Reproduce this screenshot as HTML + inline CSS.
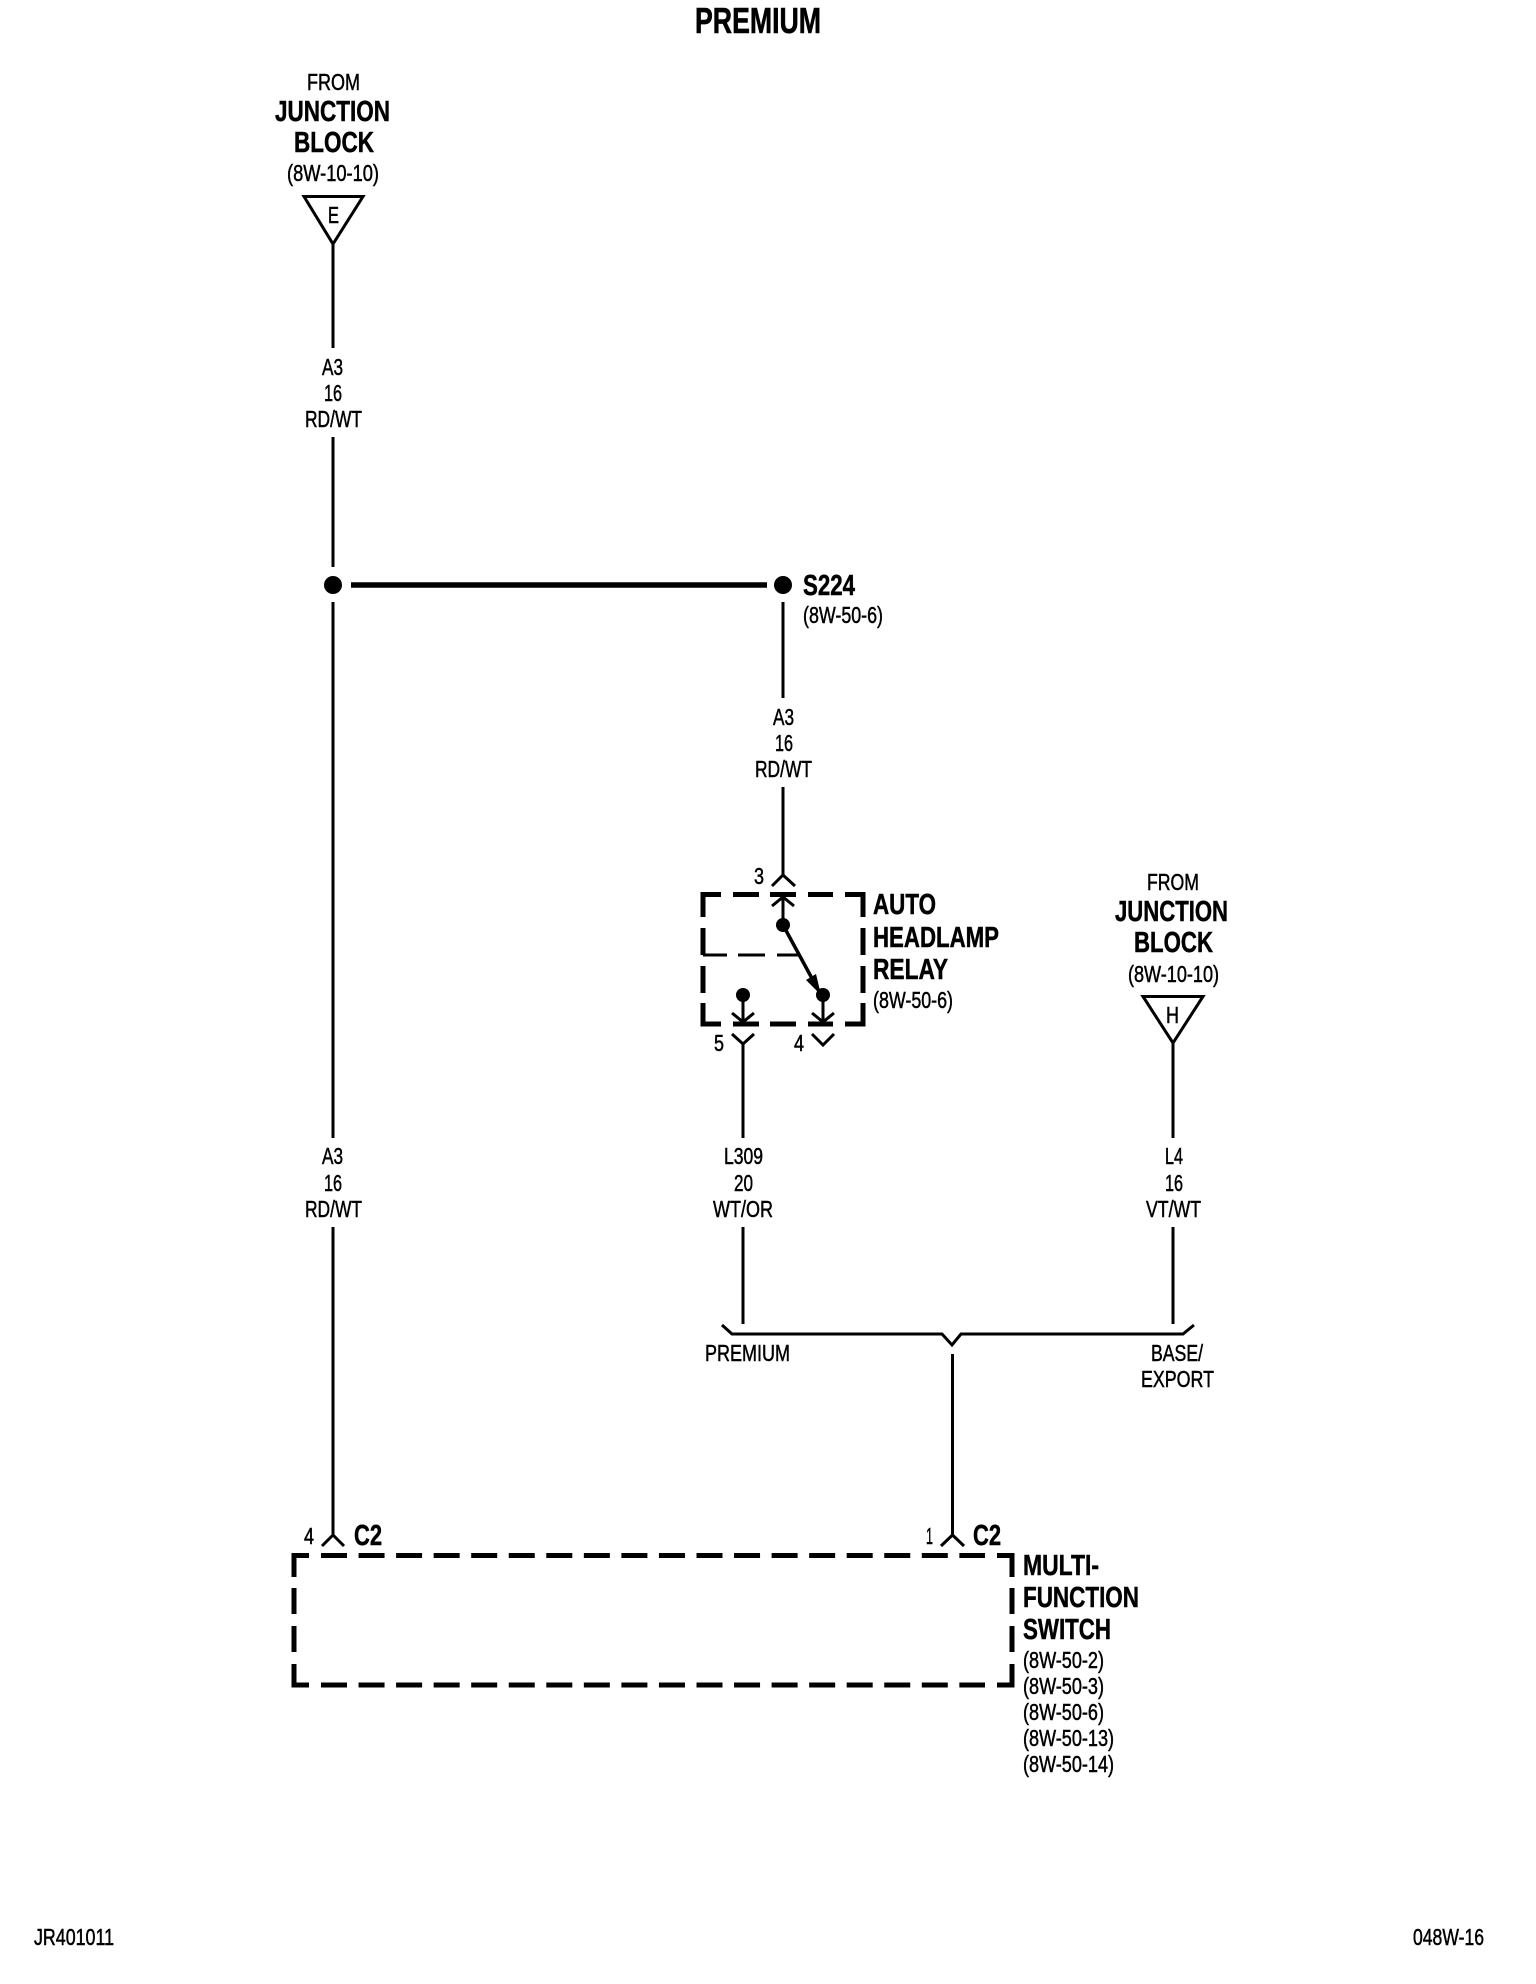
<!DOCTYPE html>
<html><head><meta charset="utf-8"><style>
html,body{margin:0;padding:0;background:#fff}
svg{display:block}
text{font-family:"Liberation Sans",sans-serif;fill:#000}
.r{font-size:23px;stroke:#000;stroke-width:.5px}
.b{font-size:29px;font-weight:bold;stroke:#000;stroke-width:.5px}
.t{font-size:36px;font-weight:bold;stroke:#000;stroke-width:.6px}
.w{stroke:#000;stroke-width:3;fill:none}
.d{stroke:#000;stroke-width:5;fill:none}
.m{stroke:#000;stroke-width:3;fill:none}
</style></head><body>
<svg xmlns="http://www.w3.org/2000/svg" width="1536" height="1984" viewBox="0 0 1536 1984">
<rect width="1536" height="1984" fill="#fff"/>

<text class="t" x="695" y="33" textLength="126" lengthAdjust="spacingAndGlyphs">PREMIUM</text>

<!-- left source -->
<text class="r" x="307" y="90" textLength="53" lengthAdjust="spacingAndGlyphs">FROM</text>
<text class="b" x="275" y="121" textLength="115" lengthAdjust="spacingAndGlyphs">JUNCTION</text>
<text class="b" x="294" y="152" textLength="80" lengthAdjust="spacingAndGlyphs">BLOCK</text>
<text class="r" x="287" y="181" textLength="92" lengthAdjust="spacingAndGlyphs">(8W-10-10)</text>
<path class="w" d="M304 196.500H363L333 244Z"/>
<text class="r" x="328" y="223" textLength="11" lengthAdjust="spacingAndGlyphs">E</text>
<path class="w" d="M333 244V348M333 437V567M333 602V1138M333 1227V1534"/>
<text class="r" x="322" y="375" textLength="21" lengthAdjust="spacingAndGlyphs">A3</text>
<text class="r" x="324" y="401" textLength="18" lengthAdjust="spacingAndGlyphs">16</text>
<text class="r" x="305" y="427" textLength="57" lengthAdjust="spacingAndGlyphs">RD/WT</text>
<circle cx="333" cy="585" r="9"/>
<path d="M351 585H767" stroke="#000" stroke-width="5.500" fill="none"/>
<circle cx="783" cy="585" r="9"/>
<text class="b" x="803" y="595" textLength="52" lengthAdjust="spacingAndGlyphs">S224</text>
<text class="r" x="803" y="623" textLength="80" lengthAdjust="spacingAndGlyphs">(8W-50-6)</text>
<path class="w" d="M783 602V698M783 787V874"/>
<text class="r" x="773" y="725" textLength="21" lengthAdjust="spacingAndGlyphs">A3</text>
<text class="r" x="775" y="751" textLength="18" lengthAdjust="spacingAndGlyphs">16</text>
<text class="r" x="755" y="777" textLength="57" lengthAdjust="spacingAndGlyphs">RD/WT</text>
<text class="r" x="322" y="1164" textLength="21" lengthAdjust="spacingAndGlyphs">A3</text>
<text class="r" x="324" y="1191" textLength="18" lengthAdjust="spacingAndGlyphs">16</text>
<text class="r" x="305" y="1217" textLength="57" lengthAdjust="spacingAndGlyphs">RD/WT</text>

<!-- relay -->
<path class="w" d="M772 886L783 875L795 886"/>
<text class="r" x="754" y="884" textLength="10" lengthAdjust="spacingAndGlyphs">3</text>
<path class="d" d="M703 917V894.500H721M733 894.500H759M770 894.500H796M808 894.500H833M845 894.500H863V917M863 928V955M863 966V993M863 1003V1024H845M833 1024H808M796 1024H770M759 1024H733M721 1024H703V1003M703 993V966M703 955V928"/>
<path class="m" d="M703 955H727M738 955H765M777 955H800"/>
<path class="w" d="M783 897V924M772 906L783 897L794 906"/>
<circle cx="783" cy="925" r="7"/>
<path d="M783 925L821 995" stroke="#000" stroke-width="3.500" fill="none"/>
<path d="M806 980L816 974L821 995Z"/>
<circle cx="823" cy="995" r="7"/>
<circle cx="743" cy="995" r="7"/>
<path class="w" d="M743 995V1022M732 1013L743 1022L754 1013M823 995V1022M812 1013L823 1022L834 1013"/>
<path class="w" d="M732 1034L743 1044L754 1034M812 1034L823 1045L834 1034"/>
<path class="w" d="M743 1044V1138M743 1227V1324"/>
<text class="r" x="714" y="1051" textLength="10" lengthAdjust="spacingAndGlyphs">5</text>
<text class="r" x="794" y="1051" textLength="10" lengthAdjust="spacingAndGlyphs">4</text>
<text class="b" x="873" y="914" textLength="63" lengthAdjust="spacingAndGlyphs">AUTO</text>
<text class="b" x="873" y="947" textLength="126" lengthAdjust="spacingAndGlyphs">HEADLAMP</text>
<text class="b" x="873" y="979" textLength="75" lengthAdjust="spacingAndGlyphs">RELAY</text>
<text class="r" x="873" y="1008" textLength="80" lengthAdjust="spacingAndGlyphs">(8W-50-6)</text>
<text class="r" x="724" y="1164" textLength="39" lengthAdjust="spacingAndGlyphs">L309</text>
<text class="r" x="734" y="1191" textLength="19" lengthAdjust="spacingAndGlyphs">20</text>
<text class="r" x="713" y="1217" textLength="60" lengthAdjust="spacingAndGlyphs">WT/OR</text>

<!-- right source -->
<text class="r" x="1147" y="890" textLength="52" lengthAdjust="spacingAndGlyphs">FROM</text>
<text class="b" x="1115" y="921" textLength="113" lengthAdjust="spacingAndGlyphs">JUNCTION</text>
<text class="b" x="1134" y="952" textLength="79" lengthAdjust="spacingAndGlyphs">BLOCK</text>
<text class="r" x="1128" y="982" textLength="91" lengthAdjust="spacingAndGlyphs">(8W-10-10)</text>
<path class="w" d="M1143 996.500H1203L1173 1043Z"/>
<text class="r" x="1166" y="1023" textLength="13" lengthAdjust="spacingAndGlyphs">H</text>
<path class="w" d="M1173 1043V1138M1173 1227V1324"/>
<text class="r" x="1165" y="1164" textLength="18" lengthAdjust="spacingAndGlyphs">L4</text>
<text class="r" x="1165" y="1191" textLength="18" lengthAdjust="spacingAndGlyphs">16</text>
<text class="r" x="1146" y="1217" textLength="55" lengthAdjust="spacingAndGlyphs">VT/WT</text>

<!-- bracket -->
<path class="w" d="M722 1325L732 1334H942L952 1345L961 1334H1183L1194 1325"/>
<path class="w" d="M952.500 1354V1534"/>
<text class="r" x="705" y="1361" textLength="85" lengthAdjust="spacingAndGlyphs">PREMIUM</text>
<text class="r" x="1151" y="1361" textLength="52" lengthAdjust="spacingAndGlyphs">BASE/</text>
<text class="r" x="1141" y="1387" textLength="73" lengthAdjust="spacingAndGlyphs">EXPORT</text>

<!-- switch -->
<path class="w" d="M322 1546L333 1535L344 1546M941 1546L952.500 1535L964 1546"/>
<text class="r" x="304" y="1544" textLength="10" lengthAdjust="spacingAndGlyphs">4</text>
<text class="r" x="926" y="1544" textLength="7" lengthAdjust="spacingAndGlyphs">1</text>
<text class="b" x="354" y="1545" textLength="28" lengthAdjust="spacingAndGlyphs">C2</text>
<text class="b" x="973" y="1545" textLength="28" lengthAdjust="spacingAndGlyphs">C2</text>
<path class="d" d="M294 1577V1555.500H309M997 1555.500H1012V1577M1012 1588V1614M1012 1626V1652M1012 1664V1685H997M309 1685H294V1664M294 1652V1626M294 1614V1588"/>
<path class="d" stroke-dasharray="26 11.550" d="M321 1555.500H985M321 1685H985"/>
<text class="b" x="1023" y="1575" textLength="76" lengthAdjust="spacingAndGlyphs">MULTI-</text>
<text class="b" x="1023" y="1607" textLength="116" lengthAdjust="spacingAndGlyphs">FUNCTION</text>
<text class="b" x="1023" y="1639" textLength="88" lengthAdjust="spacingAndGlyphs">SWITCH</text>
<text class="r" x="1023" y="1668" textLength="81" lengthAdjust="spacingAndGlyphs">(8W-50-2)</text>
<text class="r" x="1023" y="1694" textLength="81" lengthAdjust="spacingAndGlyphs">(8W-50-3)</text>
<text class="r" x="1023" y="1720" textLength="81" lengthAdjust="spacingAndGlyphs">(8W-50-6)</text>
<text class="r" x="1023" y="1746" textLength="91" lengthAdjust="spacingAndGlyphs">(8W-50-13)</text>
<text class="r" x="1023" y="1772" textLength="91" lengthAdjust="spacingAndGlyphs">(8W-50-14)</text>

<text class="r" x="34" y="1945" textLength="80" lengthAdjust="spacingAndGlyphs">JR401011</text>
<text class="r" x="1413" y="1945" textLength="71" lengthAdjust="spacingAndGlyphs">048W-16</text>
</svg>
</body></html>
